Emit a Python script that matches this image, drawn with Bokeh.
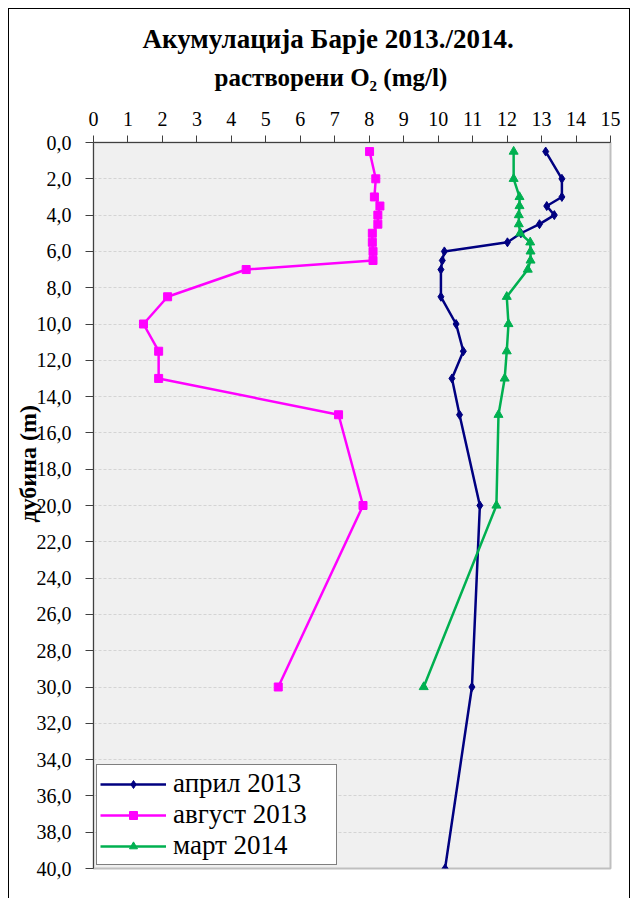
from bokeh.plotting import figure
from bokeh.models import Range1d, FixedTicker, Title, Legend, LegendItem
from bokeh.embed import file_html
from bokeh.resources import INLINE

# ---- data ----
depth_apr = [0.5, 2, 3, 3.5, 4, 4.5, 5, 5.5, 6, 6.5, 7, 8.5, 10, 11.5, 13, 15, 20, 30, 40]
o2_apr = [13.12, 13.59, 13.59, 13.15, 13.37, 12.94, 12.40, 12.01, 10.18, 10.12, 10.08,
          10.08, 10.52, 10.73, 10.40, 10.62, 11.21, 10.98, 10.20]

depth_aug = [0.5, 2, 3, 3.5, 4, 4.5, 5, 5.5, 6, 6.5, 7, 8.5, 10, 11.5, 13, 15, 20, 30]
o2_aug = [8.01, 8.19, 8.15, 8.31, 8.25, 8.25, 8.09, 8.09, 8.11, 8.11, 4.43,
          2.15, 1.45, 1.89, 1.89, 7.11, 7.82, 5.36]

depth_mar = [0.5, 2, 3, 3.5, 4, 4.5, 5, 5.5, 6, 6.5, 7, 8.5, 10, 11.5, 13, 15, 20, 30]
o2_mar = [12.19, 12.19, 12.36, 12.36, 12.34, 12.34, 12.38, 12.67, 12.68, 12.68, 12.60,
          11.99, 12.04, 11.99, 11.93, 11.75, 11.69, 9.58]

series_names = ["април 2013", "август 2013", "март 2014"]
x_ticks = list(range(0, 16))
y_ticks = list(range(0, 41, 2))
y_tick_labels = ["0,0", "2,0", "4,0", "6,0", "8,0", "10,0", "12,0", "14,0", "16,0", "18,0",
                 "20,0", "22,0", "24,0", "26,0", "28,0", "30,0", "32,0", "34,0", "36,0",
                 "38,0", "40,0"]
title_line1 = "Акумулација Барје 2013./2014."
title_line2 = "растворени O₂ (mg/l)"
y_title = "дубина (m)"

SERIF = "Liberation Serif"

p = figure(width=622, height=890, x_range=Range1d(0, 15), y_range=Range1d(40, 0),
           x_axis_location="above", output_backend="svg", toolbar_location=None,
           min_border_left=84, min_border_right=21, min_border_top=133,
           min_border_bottom=31)
p.styles = {"border-top": "1px solid #000", "border-left": "1px solid #000",
            "border-right": "1px solid #000", "margin-left": "8px", "margin-top": "8px"}

p.background_fill_color = "#f0f0f0"
p.border_fill_color = "white"
p.outline_line_color = "#bfbfbf"
p.outline_line_width = 2

# axes
xa = p.xaxis[0]
xa.ticker = FixedTicker(ticks=x_ticks)
xa.major_label_text_font = SERIF
xa.major_label_text_font_size = "20px"
xa.major_label_text_color = "black"
xa.major_tick_out = 7
xa.major_tick_in = 0
xa.minor_tick_out = 0
xa.minor_tick_in = 0
xa.axis_line_color = "#404040"
xa.major_tick_line_color = "#404040"
xa.major_label_standoff = 10

ya = p.yaxis[0]
ya.ticker = FixedTicker(ticks=y_ticks)
ya.major_label_overrides = {t: l for t, l in zip(y_ticks, y_tick_labels)}
ya.major_label_text_font = SERIF
ya.major_label_text_font_size = "20px"
ya.major_label_text_color = "black"
ya.major_tick_out = 8
ya.major_tick_in = 0
ya.minor_tick_out = 0
ya.minor_tick_in = 0
ya.axis_line_color = "#404040"
ya.major_tick_line_color = "#404040"
ya.major_label_standoff = 14

p.xgrid.grid_line_color = None
p.ygrid.grid_line_color = "#d4d4d4"
p.ygrid.grid_line_dash = "3 2"
p.ygrid.grid_line_width = 1

# titles (spacer first, then line 2, then line 1)
p.add_layout(Title(text=" ", text_font=SERIF, text_font_size="9px", standoff=0),
             "above")
p.add_layout(Title(text=title_line2, align="left", text_font=SERIF,
                   text_font_size="25px", text_font_style="bold", offset=121,
                   standoff=11, text_color="black"), "above")
p.add_layout(Title(text=title_line1, align="left", text_font=SERIF,
                   text_font_size="27px", text_font_style="bold", offset=49,
                   standoff=6, text_color="black"), "above")
p.add_layout(Title(text=y_title, align="left", text_font=SERIF,
                   text_font_size="24px", text_font_style="bold", offset=346,
                   standoff=-15, text_color="black"), "left")

# series
r1l = p.line(o2_apr, depth_apr, line_color="#000080", line_width=2.5)
r1m = p.scatter(o2_apr, depth_apr, marker="diamond", size=9, fill_color="#000080",
                line_color="#000080")
r2l = p.line(o2_aug, depth_aug, line_color="#ff00ff", line_width=2.5)
r2m = p.scatter(o2_aug, depth_aug, marker="square", size=8, fill_color="#ff00ff",
                line_color="#ff00ff")
r3l = p.line(o2_mar, depth_mar, line_color="#00b050", line_width=2.5)
r3m = p.scatter(o2_mar, depth_mar, marker="triangle", size=9, fill_color="#00b050",
                line_color="#00b050")

legend = Legend(items=[
    LegendItem(label=series_names[0], renderers=[r1l, r1m]),
    LegendItem(label=series_names[1], renderers=[r2l, r2m]),
    LegendItem(label=series_names[2], renderers=[r3l, r3m]),
], location="bottom_left")
legend.label_text_font = SERIF
legend.label_text_font_size = "27px"
legend.label_text_color = "black"
legend.border_line_color = "black"
legend.border_line_width = 1
legend.background_fill_color = "white"
legend.background_fill_alpha = 1
legend.glyph_width = 66
legend.label_standoff = 7
legend.label_width = 160
legend.padding = 3
legend.spacing = 0
legend.margin = 3
p.add_layout(legend)

open("out.html", "w").write(file_html(p, INLINE))
